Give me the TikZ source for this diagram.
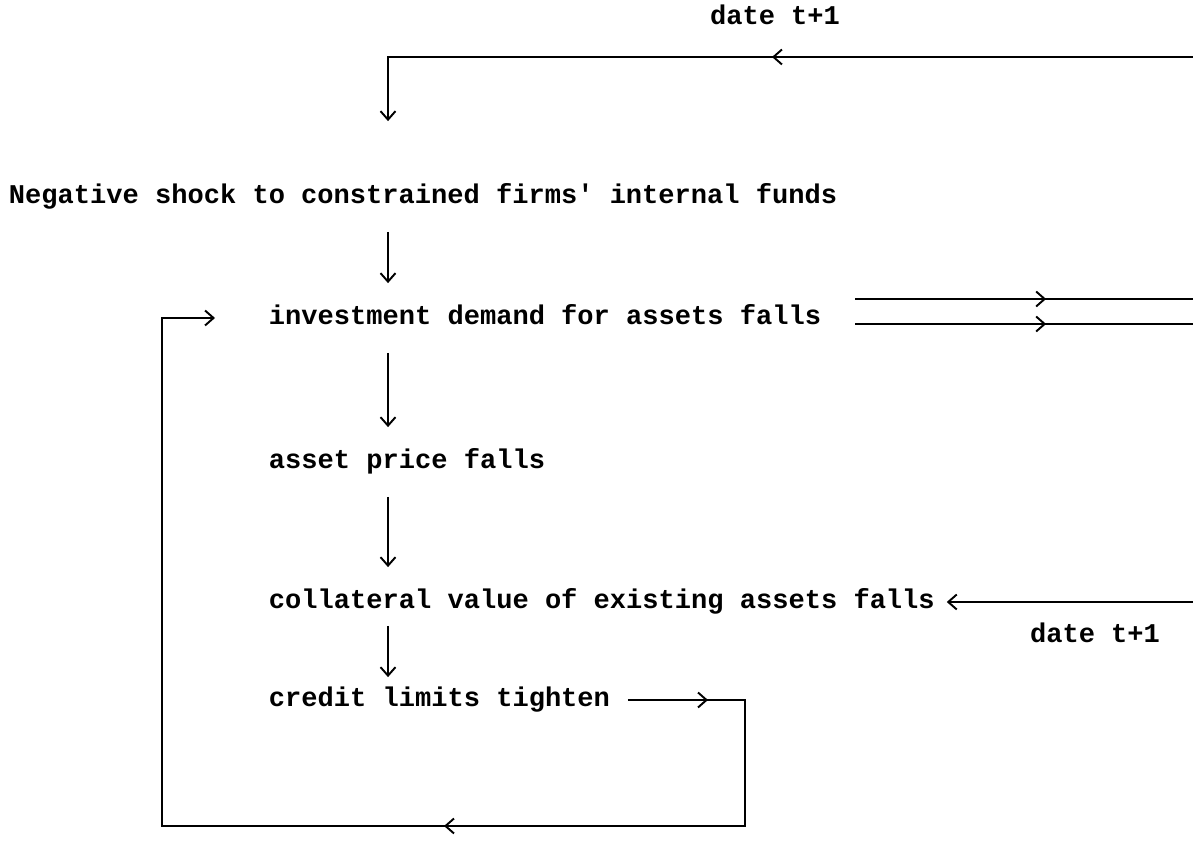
\documentclass[tikz,border=0pt]{standalone}
\usepackage{fontspec}
\usepackage{tikz}
\usetikzlibrary{calc,arrows.meta,decorations.markings}
\newfontfamily\typewriter{Liberation Mono}[BoldFont={Liberation Mono Bold}]
\tikzset{
	>={Straight Barb[length=1.7mm,width=3mm]},
	every path/.style={line width=1.1pt},
	txt/.style={anchor=west, inner sep=0pt, text height=10pt, text depth=3pt,
		font=\typewriter\bfseries\fontsize{15.4}{18}\selectfont},
	midtip/.style={postaction={decorate,decoration={markings,
		mark=at position #1 with {\arrow{>}}}}},
	flow/.style={->, shorten <=0.45cm, shorten >=0.45cm}
}

\begin{document}
\begin{tikzpicture}
		%%%%% START %%%%%
		\useasboundingbox (0, 0) rectangle (23.86, 16.92);
		
		\coordinate (spine) at (7.76, 0);
		\coordinate (topR) at (23.86, 15.78);
		\coordinate (loopR) at (14.9, 0.4);
		\coordinate (loopL) at (3.24, 0.4);
		
		\node[txt, anchor=center] (dateA) at (15.5, 16.56) {date t+1};
		\node[txt] (shock) at (0.16, 12.98) {Negative shock to constrained firms' internal funds};
		\node[txt] (invest) at (5.36, 10.56) {investment demand for assets falls};
		\node[txt] (price) at (5.36, 7.68) {asset price falls};
		\node[txt] (collat) at (5.36, 4.88) {collateral value of existing assets falls};
		\node[txt, anchor=center] (dateB) at (21.9, 4.2) {date t+1};
		\node[txt] (credit) at (5.36, 2.92) {credit limits tighten};
		
		% feedback from date t+1
		\draw[->, midtip=8.42cm] (topR) -- (topR -| spine) -- ($(shock.north -| spine)+(0, 1.27)$);
		
		% main chain
		\draw[flow] (shock.south -| spine) -- (invest.north -| spine);
		\draw[flow] (invest.south -| spine) -- (price.north -| spine);
		\draw[flow] (price.south -| spine) -- (collat.north -| spine);
		\draw[flow, shorten <=0.23cm, shorten >=0.21cm] (collat.south -| spine) -- (credit.north -| spine);
		
		% two lines out of investment
		\draw[midtip=3.82cm] ($(invest.east)+(0.66, 0.38)$) -- (23.86, 10.94);
		\draw[midtip=3.82cm] ($(invest.east)+(0.66, -0.12)$) -- (23.86, 10.44);
		
		% back into collateral value
		\draw[->] (collat.east -| topR) -- ($(collat.east)+(0.22, 0)$);
		
		% loop round to investment
		\draw[->, midtip=1.6cm, midtip=10.88cm] ($(credit.east)+(0.34, 0)$) -- (credit.east -| loopR)
			-- (loopR) -- (loopL) -- (loopL |- invest) -- ($(invest.west)+(-1.06, 0)$);
		
		%%%%% END %%%%%
	\end{tikzpicture}
\end{document}
